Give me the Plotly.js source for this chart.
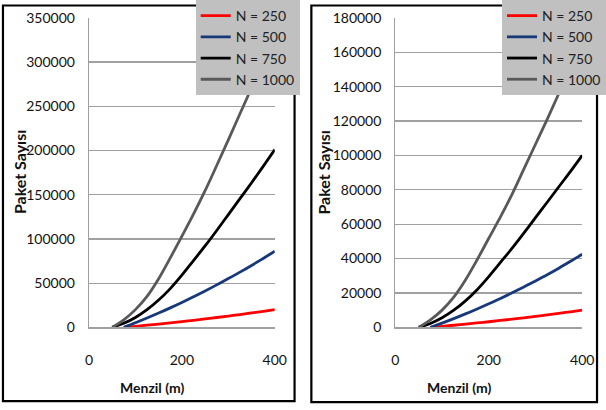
<!DOCTYPE html>
<html>
<head>
<meta charset="utf-8">
<script src="https://cdn.plot.ly/plotly-3.0.1.min.js"></script>
<style>html,body{margin:0;padding:0;background:#fff;}#chart{width:606px;height:410px;}</style>
</head>
<body>
<div id="chart"></div>
<script>
// ---- data ----
const seriesNames = ["N = 250", "N = 500", "N = 750", "N = 1000"];
const rangeA = [50, 75, 100, 125, 150, 175, 200, 225, 250, 275, 300, 325, 350, 375, 400];   // N=750, N=1000
const rangeB = [75, 100, 125, 150, 175, 200, 225, 250, 275, 300, 325, 350, 375, 400];       // N=250, N=500

// left chart
const leftN250  = [0, 1180, 2410, 3710, 5070, 6490, 7960, 9500, 11100, 12750, 14470, 16250, 18090, 20000];
const leftN500  = [0, 5100, 10500, 16100, 22000, 28100, 34500, 41100, 48000, 55100, 62400, 70000, 77900, 86000];
const leftN750  = [0, 4500, 11100, 19900, 30800, 43800, 59000, 75500, 92000, 109500, 127500, 145500, 163500, 182000, 201000];
const leftN1000 = [0, 8500, 20000, 35000, 55000, 78500, 103000, 128000, 154500, 183000, 212000, 241500, 271000, 302000, 334000];

// right chart
const rightN250  = [0, 590, 1205, 1855, 2535, 3245, 3980, 4750, 5550, 6375, 7235, 8125, 9045, 10000];
const rightN500  = [0, 2450, 5050, 7800, 10700, 13700, 16800, 20100, 23500, 27000, 30600, 34400, 38400, 42500];
const rightN750  = [0, 2250, 5550, 9950, 15400, 21900, 29500, 37750, 46000, 54750, 63750, 72750, 81750, 90700, 100000];
const rightN1000 = [0, 4300, 10000, 17500, 27500, 39300, 51800, 64200, 77500, 92000, 106500, 121000, 136000, 151500, 167500];

const xTicks = [0, 200, 400];
const leftYTicks = [0, 50000, 100000, 150000, 200000, 250000, 300000, 350000];
const rightYTicks = [0, 20000, 40000, 60000, 80000, 100000, 120000, 140000, 160000, 180000];
const xTitle = "Menzil (m)";
const yTitle = "Paket Sayısı";

// ---- styling ----
const W = 606, H = 410;
const px = x => x / W;
const py = y => 1 - y / H;
const colors = ["#ff0000", "#17397a", "#000000", "#595959"];
const FONT = "Lato, 'Open Sans', sans-serif";

function mk(x, y, i, xa, ya, lg) {
  return {
    x: x, y: y, name: seriesNames[i], type: "scatter", mode: "lines",
    xaxis: xa, yaxis: ya, legend: lg,
    line: {color: colors[i], width: 2.8, shape: "spline", smoothing: 1}
  };
}

const traces = [
  mk(rangeB, leftN250, 0, "x", "y", "legend"),
  mk(rangeB, leftN500, 1, "x", "y", "legend"),
  mk(rangeA, leftN750, 2, "x", "y", "legend"),
  mk(rangeA, leftN1000, 3, "x", "y", "legend"),
  mk(rangeB, rightN250, 0, "x2", "y2", "legend2"),
  mk(rangeB, rightN500, 1, "x2", "y2", "legend2"),
  mk(rangeA, rightN750, 2, "x2", "y2", "legend2"),
  mk(rangeA, rightN1000, 3, "x2", "y2", "legend2")
];

const gridC = "#a0a0a0";
function xaxis(d0, d1, anchor) {
  return {
    domain: [px(d0), px(d1)], anchor: anchor, range: [0, 400],
    tickvals: xTicks, showgrid: false, zeroline: false,
    showline: true, linecolor: gridC, linewidth: 1.2,
    ticks: "outside", ticklen: 20, tickcolor: "rgba(0,0,0,0)",
    tickfont: {family: FONT, size: 14, color: "#111"}, fixedrange: true
  };
}
function yaxis(max, vals, anchor) {
  return {
    domain: [py(326.5), py(14)], anchor: anchor, range: [0, max],
    tickvals: vals, tickformat: "d",
    showgrid: true, gridcolor: gridC, gridwidth: 1.2, zeroline: false,
    showline: true, linecolor: gridC, linewidth: 1.2,
    ticks: "outside", ticklen: 10, tickcolor: "rgba(0,0,0,0)",
    tickfont: {family: FONT, size: 14, color: "#111"}, fixedrange: true
  };
}

function legendAt(x0) {
  return {
    x: px(x0), y: py(-4), xanchor: "left", yanchor: "top",
    bgcolor: "#c0c0c0", borderwidth: 0,
    font: {family: FONT, size: 14, color: "#222"},
    traceorder: "normal"
  };
}

const layout = {
  width: W, height: H,
  margin: {l: 0, r: 0, t: 0, b: 0},
  paper_bgcolor: "#ffffff", plot_bgcolor: "#ffffff",
  font: {family: FONT},
  showlegend: true,
  xaxis: xaxis(90, 278, "y"),
  yaxis: yaxis(350000, leftYTicks, "x"),
  xaxis2: xaxis(400, 589, "y2"),
  yaxis2: yaxis(180000, rightYTicks, "x2"),
  legend: legendAt(198),
  legend2: legendAt(508),
  shapes: [
    {type: "rect", xref: "paper", yref: "paper", x0: px(3), x1: px(298), y0: py(401), y1: py(1.5),
     line: {color: "#000", width: 2.2}, fillcolor: "rgba(0,0,0,0)", layer: "above"},
    {type: "rect", xref: "paper", yref: "paper", x0: px(315), x1: px(604), y0: py(402), y1: py(1.5),
     line: {color: "#000", width: 2.2}, fillcolor: "rgba(0,0,0,0)", layer: "above"}
  ],
  annotations: [
    {text: xTitle, xref: "paper", yref: "paper", x: px(154), y: py(387), showarrow: false,
     xanchor: "center", yanchor: "middle", font: {family: FONT, size: 14, color: "#111", weight: "bold"}},
    {text: xTitle, xref: "paper", yref: "paper", x: px(465), y: py(387), showarrow: false,
     xanchor: "center", yanchor: "middle", font: {family: FONT, size: 14, color: "#111", weight: "bold"}},
    {text: yTitle, xref: "paper", yref: "paper", x: px(20), y: py(170), showarrow: false, textangle: -90,
     xanchor: "center", yanchor: "middle", font: {family: FONT, size: 16, color: "#111", weight: "bold"}},
    {text: yTitle, xref: "paper", yref: "paper", x: px(327), y: py(170), showarrow: false, textangle: -90,
     xanchor: "center", yanchor: "middle", font: {family: FONT, size: 16, color: "#111", weight: "bold"}}
  ]
};

Plotly.newPlot("chart", traces, layout, {staticPlot: true, displayModeBar: false});
</script>
</body>
</html>
